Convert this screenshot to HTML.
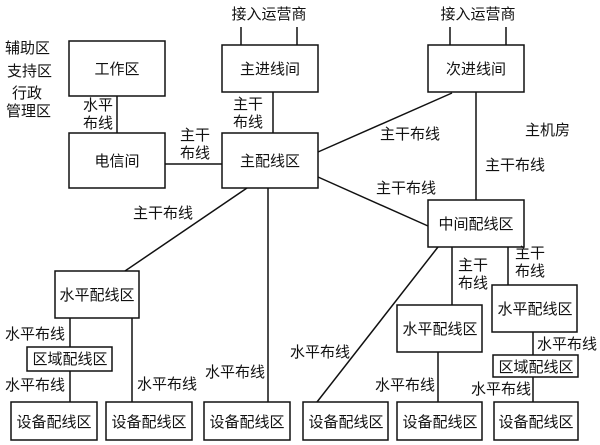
<!DOCTYPE html>
<html><head><meta charset="utf-8"><style>
html,body{margin:0;padding:0;background:#fff;}
svg{display:block;}
text{font-family:"Liberation Sans","Noto Sans CJK SC",sans-serif;font-size:15px;fill:#111;}
</style></head><body>
<svg width="600" height="445" viewBox="0 0 600 445" xmlns="http://www.w3.org/2000/svg">
<g fill="#fff" stroke="#111" stroke-width="1.5">
<rect x="69" y="41" width="96" height="55"/>
<rect x="69" y="133" width="96" height="55"/>
<rect x="222" y="45" width="96" height="47"/>
<rect x="222" y="133" width="96" height="55"/>
<rect x="428" y="45" width="96" height="47"/>
<rect x="428" y="200" width="96" height="47"/>
<rect x="55" y="271" width="84" height="47"/>
<rect x="27" y="347" width="85" height="24"/>
<rect x="397" y="305" width="85" height="47"/>
<rect x="492" y="285" width="85" height="47"/>
<rect x="493" y="355" width="85" height="22"/>
<rect x="11" y="402" width="86" height="38"/>
<rect x="106" y="402" width="86" height="38"/>
<rect x="204" y="402" width="86" height="38"/>
<rect x="303" y="402" width="85" height="38"/>
<rect x="397" y="402" width="85" height="38"/>
<rect x="494" y="402" width="84" height="38"/>
</g>
<g stroke="#111" stroke-width="1.5" fill="none">
<line x1="241" y1="27" x2="241" y2="45"/><line x1="297" y1="27" x2="297" y2="45"/>
<line x1="450" y1="27" x2="450" y2="45"/><line x1="506" y1="27" x2="506" y2="45"/>
<line x1="117" y1="96" x2="117" y2="133"/>
<line x1="165" y1="164" x2="222" y2="164"/>
<line x1="273" y1="92" x2="273" y2="133"/>
<line x1="318" y1="152" x2="452" y2="93"/>
<line x1="476" y1="92" x2="476" y2="200"/>
<line x1="318" y1="177" x2="428" y2="226"/>
<line x1="247" y1="188" x2="125" y2="271"/>
<line x1="268" y1="188" x2="268" y2="402"/>
<line x1="70" y1="318" x2="70" y2="347"/>
<line x1="70" y1="371" x2="70" y2="402"/>
<line x1="132" y1="318" x2="132" y2="402"/>
<line x1="438" y1="247" x2="317" y2="402"/>
<line x1="452" y1="247" x2="452" y2="305"/>
<line x1="438" y1="352" x2="438" y2="402"/>
<line x1="508" y1="247" x2="508" y2="285"/>
<line x1="533" y1="332" x2="533" y2="355"/>
<line x1="533" y1="377" x2="533" y2="402"/>
</g>
<g text-anchor="middle">
<text x="269" y="19">接入运营商</text>
<text x="478" y="19">接入运营商</text>
<text x="117" y="74">工作区</text>
<text x="117" y="166">电信间</text>
<text x="270" y="74">主进线间</text>
<text x="270" y="166">主配线区</text>
<text x="476" y="74">次进线间</text>
<text x="476" y="229">中间配线区</text>
<text x="97" y="300">水平配线区</text>
<text x="70" y="364">区域配线区</text>
<text x="440" y="334">水平配线区</text>
<text x="535" y="314">水平配线区</text>
<text x="536" y="372">区域配线区</text>
<text x="54" y="427">设备配线区</text>
<text x="149" y="427">设备配线区</text>
<text x="247" y="427">设备配线区</text>
<text x="346" y="427">设备配线区</text>
<text x="440" y="427">设备配线区</text>
<text x="536" y="427">设备配线区</text>
</g>
<g>
<text x="5" y="53">辅助区</text>
<text x="7" y="76">支持区</text>
<text x="12" y="98">行政</text>
<text x="6" y="116">管理区</text>
<text x="83" y="110">水平</text>
<text x="83" y="128">布线</text>
<text x="180" y="140">主干</text>
<text x="180" y="158">布线</text>
<text x="233" y="109">主干</text>
<text x="233" y="127">布线</text>
<text x="380" y="139">主干布线</text>
<text x="525" y="135">主机房</text>
<text x="485" y="170">主干布线</text>
<text x="376" y="193">主干布线</text>
<text x="133" y="218">主干布线</text>
<text x="458" y="270">主干</text>
<text x="458" y="288">布线</text>
<text x="515" y="258">主干</text>
<text x="515" y="276">布线</text>
<text x="5" y="339">水平布线</text>
<text x="5" y="390">水平布线</text>
<text x="137" y="389">水平布线</text>
<text x="205" y="377">水平布线</text>
<text x="290" y="357">水平布线</text>
<text x="375" y="390">水平布线</text>
<text x="537" y="349">水平布线</text>
<text x="471" y="394">水平布线</text>
</g>
</svg>
</body></html>
